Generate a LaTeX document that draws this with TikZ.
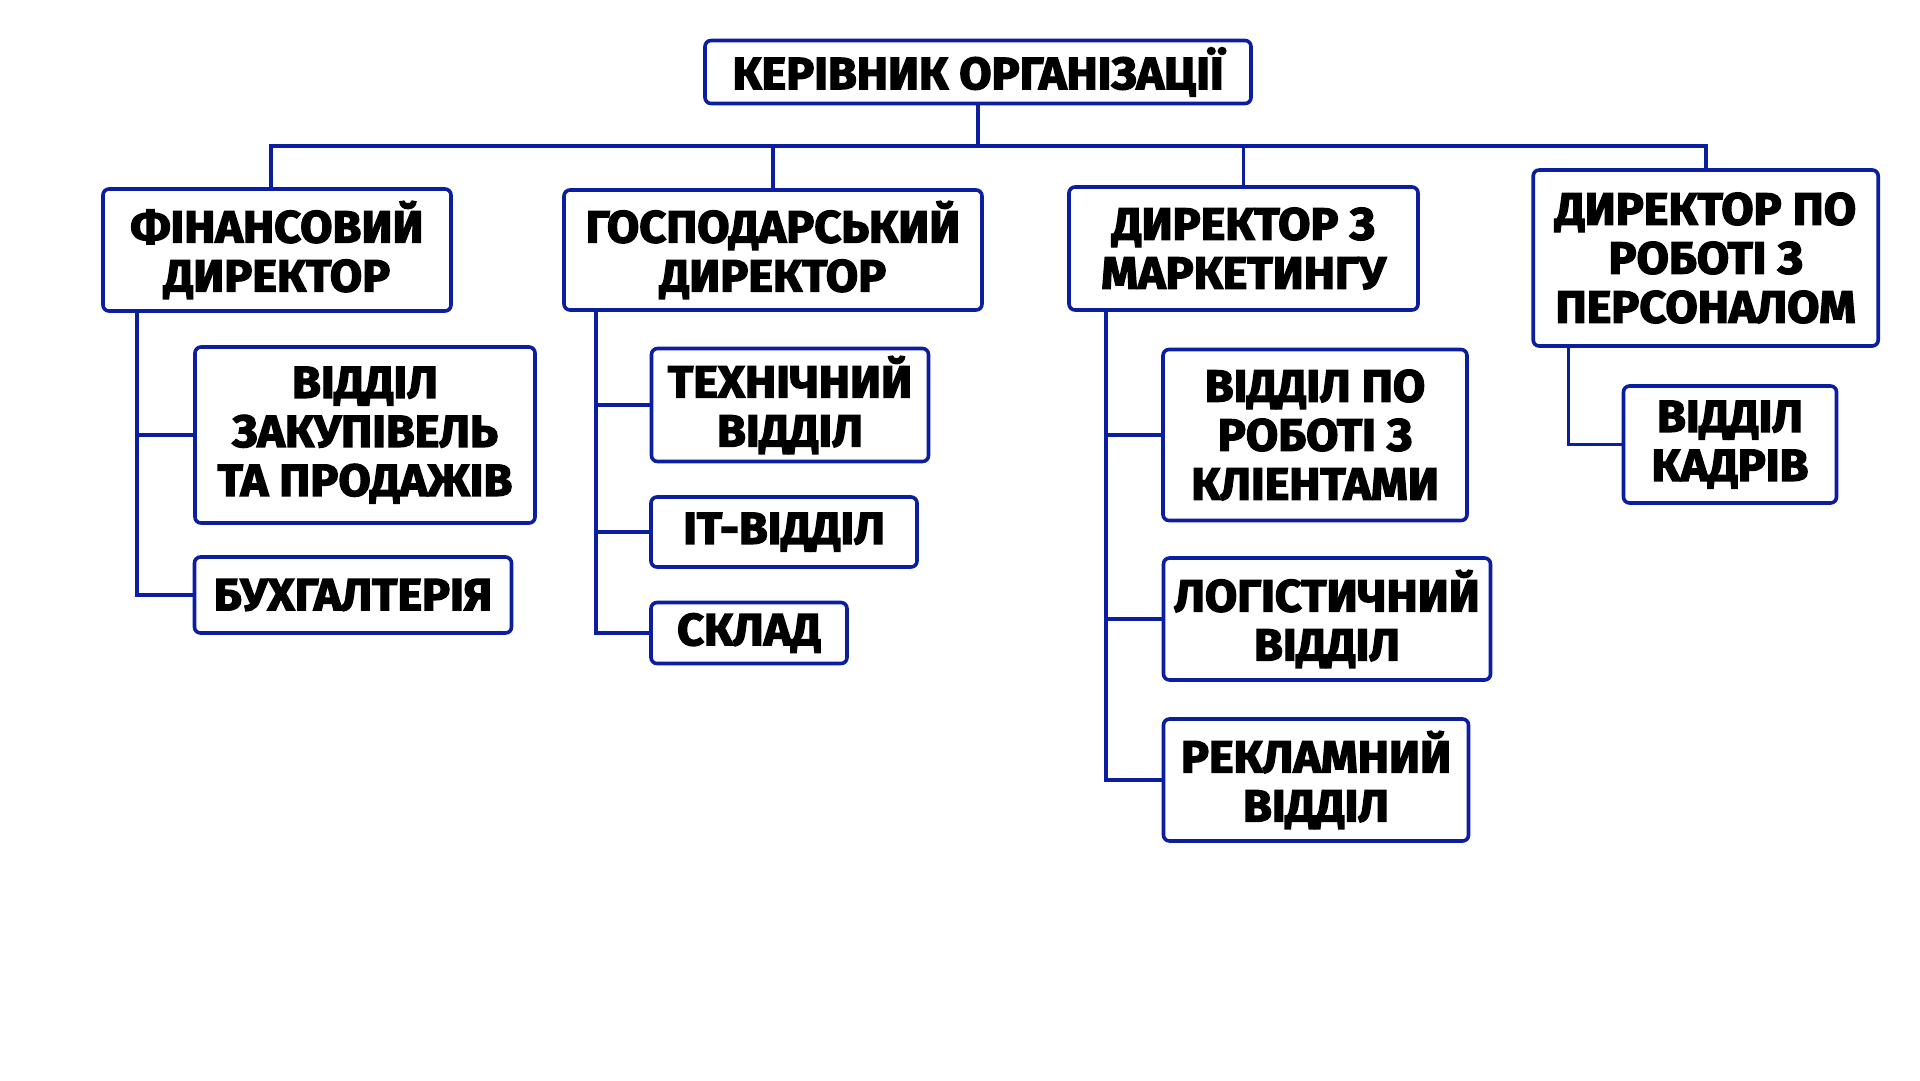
\documentclass[tikz,border=0pt]{standalone}
\usepackage{fontspec}
\setmainfont{Fira Sans}[BoldFeatures={FakeStretch=1.04, FakeBold=3}]
\definecolor{orgblue}{RGB}{12,30,160}
\tikzset{
  box/.style={draw=orgblue, line width=3.6pt, rounded corners=6pt, fill=white,
    align=center, inner sep=0pt, text=black,
    font=\fontsize{45}{49}\selectfont\bfseries},
  conn/.style={draw=orgblue, line width=3.6pt}
}
\begin{document}
\begin{tikzpicture}[x=1pt,y=-1pt]
\fill[white] (0,0) rectangle (1920,1080);
\useasboundingbox (0,0) rectangle (1920,1080);

\coordinate (bus) at (0,145.7);
\coordinate (finT) at (137,0);
\coordinate (gospT) at (596,0);
\coordinate (markT) at (1106,0);
\coordinate (persT) at (1568.6,0);

\node[box, minimum width=546, minimum height=63] (top) at (978,72) {КЕРІВНИК ОРГАНІЗАЦІЇ};

\node[box, minimum width=348, minimum height=122] (fin) at (277,250) {ФІНАНСОВИЙ\\ДИРЕКТОР};
\node[box, minimum width=418, minimum height=120] (gosp) at (773,250) {ГОСПОДАРСЬКИЙ\\ДИРЕКТОР};
\node[box, minimum width=349, minimum height=123] (mark) at (1243.5,248.5) {ДИРЕКТОР З\\МАРКЕТИНГУ};
\node[box, minimum width=345, minimum height=176] (pers) at (1705.7,258) {ДИРЕКТОР ПО\\РОБОТІ З\\ПЕРСОНАЛОМ};

\node[box, minimum width=340, minimum height=176] (zak) at (365,435) {ВІДДІЛ\\ЗАКУПІВЕЛЬ\\ТА ПРОДАЖІВ};
\node[box, minimum width=317, minimum height=76] (buh) at (353,595) {БУХГАЛТЕРІЯ};

\node[box, minimum width=277, minimum height=113] (tech) at (790,405) {ТЕХНІЧНИЙ\\ВІДДІЛ};
\node[box, minimum width=266, minimum height=70] (it) at (784,532) {ІТ-ВІДДІЛ};
\node[box, minimum width=196, minimum height=61] (sklad) at (749,633) {СКЛАД};

\node[box, minimum width=304, minimum height=171] (kli) at (1315,435) {ВІДДІЛ ПО\\РОБОТІ З\\КЛІЕНТАМИ};
\node[box, minimum width=327, minimum height=122] (log) at (1327,619) {ЛОГІСТИЧНИЙ\\ВІДДІЛ};
\node[box, minimum width=305, minimum height=122] (rek) at (1316,780) {РЕКЛАМНИЙ\\ВІДДІЛ};

\node[box, minimum width=213, minimum height=117] (kadr) at (1730,444.5) {ВІДДІЛ\\КАДРІВ};

\draw[conn] (top.south) -- (top.south |- bus);
\draw[conn] ([xshift=-6pt]fin.north) |- (pers.north |- bus) -- (pers.north);
\draw[conn] (gosp.north) -- (gosp.north |- bus);
\draw[conn] (mark.north) -- (mark.north |- bus);

\draw[conn] (fin.south -| finT) |- (buh.west);
\draw[conn] (zak.west) -- (zak.west -| finT);

\draw[conn] (gosp.south -| gospT) |- (sklad.west);
\draw[conn] (tech.west) -- (tech.west -| gospT);
\draw[conn] (it.west) -- (it.west -| gospT);

\draw[conn] (mark.south -| markT) |- (rek.west);
\draw[conn] (kli.west) -- (kli.west -| markT);
\draw[conn] (log.west) -- (log.west -| markT);

\draw[conn] (pers.south -| persT) |- (kadr.west);
\end{tikzpicture}
\end{document}
